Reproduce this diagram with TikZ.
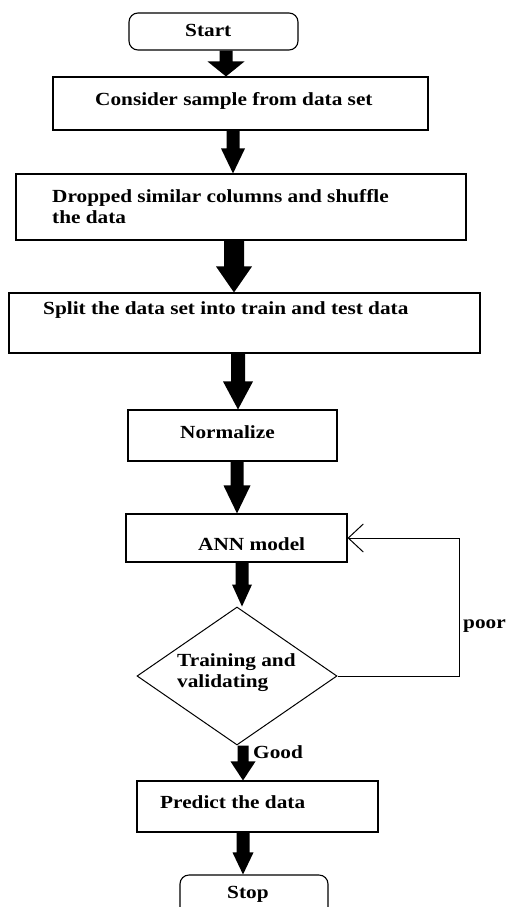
\documentclass[tikz,border=0pt]{standalone}
\usepackage{fontspec}
\setmainfont{Liberation Serif}[FakeStretch=1.15]
\usetikzlibrary{arrows.meta,calc,shapes.geometric}

\tikzset{
  box/.style={draw=black, line width=1.1pt, fill=white, inner sep=0pt, rectangle},
  terminal/.style={box, rounded corners=9pt},
  decision/.style={draw=black, line width=1pt, fill=white, diamond, inner sep=0pt},
  label text/.style={inner sep=0pt, anchor=base west, align=left,
    font=\fontsize{18.5}{20.5}\selectfont\bfseries},
  blk/.style={fill=black},
  feedback/.style={draw=black, line width=1pt, -{Straight Barb[length=15pt,width=28pt]}},
}

% solid block arrow from the bottom of node #1 to the top of node #2,
% on the vertical axis x=#3; shaft width #4, head width #5, head length #6
\newcommand\blkarrow[6]{%
  \fill[blk] let \p1=(#1.south), \p2=(#2.north) in
    ({#3pt-#4pt/2},\y1) -- ({#3pt-#4pt/2},{\y2+#6pt}) -- ({#3pt-#5pt/2},{\y2+#6pt})
    -- (#3pt,\y2)
    -- ({#3pt+#5pt/2},{\y2+#6pt}) -- ({#3pt+#4pt/2},{\y2+#6pt}) -- ({#3pt+#4pt/2},\y1) -- cycle;%
}

\begin{document}
\begin{tikzpicture}[x=1pt,y=-1pt]
\fill[white] (0,0) rectangle (508,907);
\useasboundingbox (0,0) rectangle (508,907);
\clip (0,0) rectangle (508,907);

% process boxes
\node[terminal, minimum width=169pt, minimum height=37pt] (start) at (213.5,31.5) {};
\node[box, minimum width=375pt, minimum height=53pt] (consider) at (240.5,103.5) {};
\node[box, minimum width=450pt, minimum height=66pt] (dropped) at (241,207) {};
\node[box, minimum width=471pt, minimum height=60pt] (split) at (244.5,323) {};
\node[box, minimum width=209pt, minimum height=51pt] (normalize) at (232.5,435.5) {};
\node[box, minimum width=221pt, minimum height=48pt] (ann) at (236.5,538) {};
\node[decision, minimum width=200pt, minimum height=138pt] (check) at (237,676) {};
\node[box, minimum width=241pt, minimum height=51pt] (predict) at (257.5,806.5) {};
\node[terminal, minimum width=148pt, minimum height=50pt] (stop) at (254,900) {};

% texts (two-line texts are placed by the baseline of their last line)
\node[label text] (start-t) at (185,37) {Start};
\node[label text] (consider-t) at (95,105) {Consider sample from data set};
\node[label text] (dropped-t) at (52,223) {Dropped similar columns and shuffle\\the data};
\node[label text] (split-t) at (43,314) {Split the data set into train and test data};
\node[label text] (normalize-t) at (180,438) {Normalize};
\node[label text] (ann-t) at (198,550) {ANN model};
\node[label text] (check-t) at (177,687) {Training and\\validating};
\node[label text] (poor) at (463,628) {poor};
\node[label text] (good) at (253,758) {Good};
\node[label text] (predict-t) at (160,808) {Predict the data};
\node[label text] (stop-t) at (227,898) {Stop};

% main flow
\blkarrow{start}{consider}{226}{13}{37}{15}
\blkarrow{consider}{dropped}{233}{13}{24}{25}
\blkarrow{dropped}{split}{234}{20}{36}{26}
\blkarrow{split}{normalize}{238}{14}{30}{28}
\blkarrow{normalize}{ann}{237}{13}{27}{28}
\blkarrow{ann}{check}{242}{13}{20}{22}
\blkarrow{check}{predict}{243}{11}{25}{19}
\blkarrow{predict}{stop}{243}{13}{21}{22}

% feedback loop for a poor result
\coordinate (loopx) at (459,0);
\draw[feedback] (check.east) -- (check.east -| loopx) |- (ann.east);
\end{tikzpicture}
\end{document}
